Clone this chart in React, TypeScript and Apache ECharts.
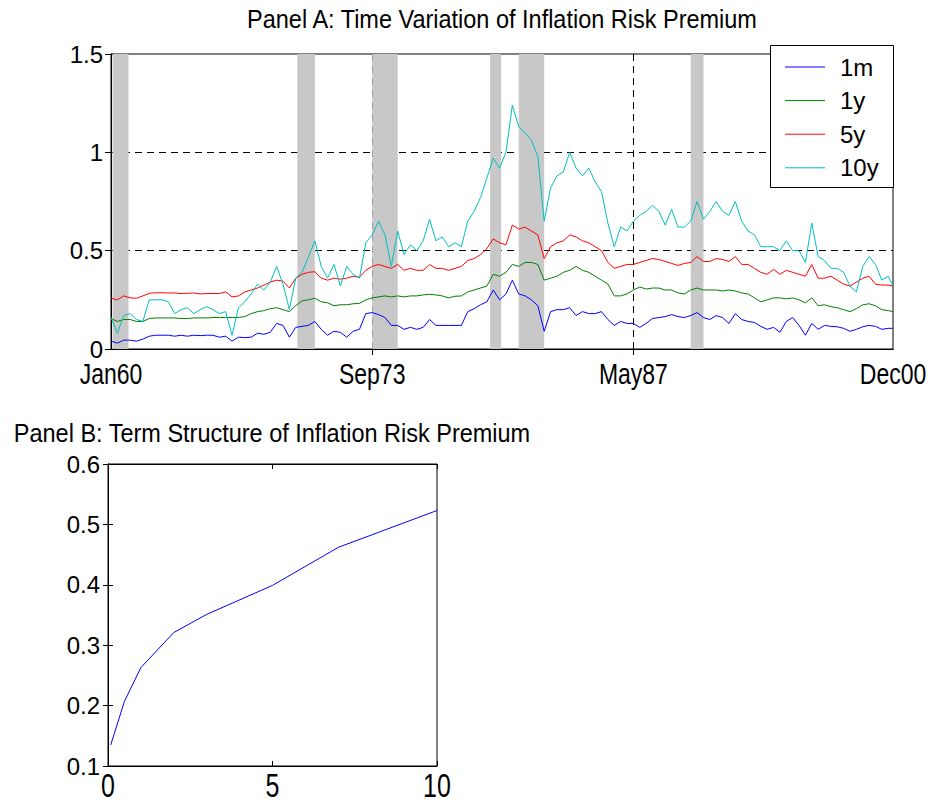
import React, { useEffect, useRef } from "react";
import * as echarts from "echarts";

// ---- Panel A data (month index from Jan 1960) ----
const months = [
  0, 4, 8, 12, 16, 20, 24, 28, 32, 36,
  40, 44, 48, 52, 56, 60, 64, 68, 72, 76,
  80, 84, 88, 92, 96, 100, 104, 108, 112, 116,
  120, 124, 128, 132, 136, 140, 144, 148, 152, 156,
  160, 164, 168, 172, 176, 180, 184, 188, 192, 196,
  200, 204, 208, 212, 216, 220, 224, 228, 232, 236,
  240, 244, 248, 252, 256, 260, 264, 268, 272, 276,
  280, 284, 288, 292, 296, 300, 304, 308, 312, 316,
  320, 324, 328, 332, 336, 340, 344, 348, 352, 356,
  360, 364, 368, 372, 376, 380, 384, 388, 392, 396,
  400, 404, 408, 412, 416, 420, 424, 428, 432, 436,
  440, 444, 448, 452, 456, 460, 464, 468, 472, 476,
  480, 484, 488, 491,
];

const irp1m = [
  0.04, 0.03, 0.045, 0.045, 0.04, 0.05, 0.065, 0.07, 0.07, 0.07,
  0.065, 0.07, 0.065, 0.07, 0.068, 0.07, 0.07, 0.06, 0.065, 0.04,
  0.06, 0.058, 0.06, 0.08, 0.075, 0.085, 0.13, 0.12, 0.06, 0.11,
  0.115, 0.12, 0.14, 0.1, 0.07, 0.09, 0.085, 0.06, 0.09, 0.1,
  0.18, 0.185, 0.175, 0.16, 0.12, 0.12, 0.1, 0.11, 0.1, 0.11,
  0.15, 0.12, 0.12, 0.12, 0.12, 0.12, 0.19, 0.205, 0.225, 0.24,
  0.3, 0.25, 0.28, 0.35, 0.28, 0.27, 0.25, 0.22, 0.09, 0.19,
  0.2, 0.2, 0.21, 0.17, 0.19, 0.18, 0.18, 0.19, 0.15, 0.12,
  0.14, 0.13, 0.13, 0.11, 0.13, 0.155, 0.16, 0.165, 0.175, 0.165,
  0.16, 0.17, 0.185, 0.16, 0.15, 0.17, 0.16, 0.13, 0.18, 0.15,
  0.14, 0.135, 0.115, 0.1, 0.11, 0.085, 0.14, 0.16, 0.12, 0.07,
  0.13, 0.1, 0.12, 0.115, 0.113, 0.105, 0.09, 0.1, 0.113, 0.12,
  0.115, 0.1, 0.105, 0.105,
];

const irp1y = [
  0.155, 0.14, 0.15, 0.15, 0.14, 0.14, 0.155, 0.158, 0.158, 0.158,
  0.158, 0.155, 0.155, 0.158, 0.158, 0.158, 0.16, 0.16, 0.16, 0.16,
  0.16, 0.165, 0.18, 0.19, 0.195, 0.205, 0.21, 0.2, 0.19, 0.22,
  0.245, 0.25, 0.258, 0.24, 0.235, 0.22, 0.225, 0.225, 0.23, 0.232,
  0.25, 0.26, 0.265, 0.27, 0.265, 0.27, 0.265, 0.27, 0.27, 0.275,
  0.278, 0.275, 0.27, 0.26, 0.268, 0.27, 0.29, 0.3, 0.31, 0.32,
  0.38, 0.37, 0.39, 0.43, 0.42, 0.44, 0.44, 0.43, 0.35, 0.36,
  0.37, 0.39, 0.4, 0.42, 0.4, 0.39, 0.37, 0.35, 0.33, 0.27,
  0.27, 0.28, 0.3, 0.315, 0.305, 0.31, 0.31, 0.3, 0.3, 0.285,
  0.28, 0.3, 0.31, 0.3, 0.3, 0.3, 0.295, 0.3, 0.295, 0.285,
  0.28, 0.26, 0.24, 0.25, 0.26, 0.26, 0.255, 0.26, 0.25, 0.235,
  0.26, 0.22, 0.225, 0.215, 0.21, 0.2, 0.19, 0.205, 0.225, 0.23,
  0.22, 0.2, 0.195, 0.19,
];

const irp5y = [
  0.258, 0.25, 0.27, 0.26, 0.258, 0.27, 0.283, 0.286, 0.286, 0.285,
  0.285, 0.282, 0.283, 0.285, 0.28, 0.282, 0.282, 0.282, 0.29, 0.265,
  0.27, 0.29, 0.3, 0.31, 0.325, 0.34, 0.35, 0.345, 0.31, 0.36,
  0.38, 0.39, 0.393, 0.36, 0.35, 0.36, 0.355, 0.36, 0.37, 0.365,
  0.4, 0.42, 0.43, 0.42, 0.41, 0.43, 0.4, 0.41, 0.4, 0.4,
  0.43, 0.41, 0.41, 0.4, 0.41, 0.42, 0.45, 0.46, 0.48, 0.51,
  0.56, 0.54, 0.53, 0.63, 0.61, 0.62, 0.6, 0.58, 0.46, 0.52,
  0.54, 0.55, 0.58, 0.57, 0.55, 0.54, 0.52, 0.5, 0.44, 0.41,
  0.42, 0.43, 0.43, 0.44, 0.45, 0.46, 0.455, 0.445, 0.435, 0.425,
  0.435, 0.44, 0.47, 0.445, 0.445, 0.46, 0.455, 0.445, 0.47, 0.43,
  0.43, 0.41, 0.39, 0.38, 0.405, 0.38, 0.4, 0.39, 0.38, 0.37,
  0.43, 0.36, 0.36, 0.37, 0.35, 0.33, 0.32, 0.34, 0.36, 0.37,
  0.33, 0.325, 0.325, 0.32,
];

const irp10y = [
  0.16, 0.08, 0.17, 0.18, 0.15, 0.14, 0.25, 0.25, 0.25, 0.24,
  0.18, 0.2, 0.21, 0.18, 0.2, 0.215, 0.2, 0.18, 0.19, 0.07,
  0.21, 0.24, 0.28, 0.33, 0.3, 0.34, 0.42, 0.33, 0.2, 0.36,
  0.39, 0.47, 0.55, 0.42, 0.36, 0.43, 0.32, 0.42, 0.38, 0.36,
  0.54, 0.58, 0.65, 0.58, 0.42, 0.6, 0.48, 0.53, 0.5, 0.55,
  0.66, 0.55, 0.57, 0.52, 0.54, 0.52, 0.65, 0.7, 0.77, 0.87,
  0.97, 0.92, 1.0, 1.24, 1.13, 1.1, 1.06, 0.98, 0.65, 0.82,
  0.88, 0.9, 1.0, 0.92, 0.88, 0.92, 0.85, 0.8, 0.64, 0.52,
  0.62, 0.6, 0.65, 0.68, 0.7, 0.73, 0.7, 0.63, 0.71, 0.62,
  0.62, 0.65, 0.75, 0.66, 0.7, 0.75, 0.7, 0.68, 0.75, 0.65,
  0.6, 0.58, 0.52, 0.52, 0.52, 0.5, 0.55, 0.5, 0.5, 0.44,
  0.64, 0.47, 0.45, 0.41, 0.41, 0.39, 0.32, 0.29, 0.42, 0.47,
  0.43, 0.35, 0.37, 0.32,
];

// recession shading (month index start / end)
const recessionStart = [1, 117, 164, 238, 256, 364];
const recessionEnd = [11, 128, 180, 245, 272, 372];

const xTickMonths = [0, 164, 328, 491];
const xTickLabels = ["Jan60", "Sep73", "May87", "Dec00"];
const gridMonths = [164, 328];
const gridLevels = [0.5, 1];

// ---- Panel B data ----
const maturities = [0.0833, 0.5, 1, 2, 3, 5, 7, 10];
const termPremium = [0.135, 0.207, 0.263, 0.321, 0.351, 0.399, 0.462, 0.523];
const maturityTicks = [0, 5, 10];

const seriesNames = ["1m", "1y", "5y", "10y"];
const seriesColors = ["#0000ff", "#008000", "#ff0000", "#00bfbf"];

const FONT = "'Liberation Sans', Arial, sans-serif";

export default function App() {
  const ref = useRef<HTMLDivElement>(null);

  useEffect(() => {
    if (!ref.current) return;
    const chart = echarts.init(ref.current, undefined, { renderer: "svg" });
    const values = [irp1m, irp1y, irp5y, irp10y];

    const yLabelStyle = { color: "#000", fontSize: 24, fontFamily: FONT };
    const axisLine = { show: true, lineStyle: { color: "#000", width: 1 } };
    const hidden = { show: false };

    const lineSeries = values.map((vals, i) => ({
      type: "line",
      name: seriesNames[i],
      xAxisIndex: 0,
      yAxisIndex: 0,
      data: months.map((m, k) => [m, vals[k]]),
      showSymbol: false,
      symbol: "none",
      lineStyle: { color: seriesColors[i], width: 1 },
      itemStyle: { color: seriesColors[i] },
      z: 5,
      silent: true,
    }));

    chart.setOption({
      animation: false,
      backgroundColor: "#fff",
      grid: [
        { left: 111, top: 54, width: 782, height: 295, show: true, borderColor: "#000", borderWidth: 1, backgroundColor: "transparent" },
        { left: 108, top: 464, width: 329, height: 302, show: true, borderColor: "#000", borderWidth: 1, backgroundColor: "transparent" },
      ],
      xAxis: [
        {
          type: "value", gridIndex: 0, position: "bottom", min: 0, max: 491,
          axisLine,
          axisTick: { show: true, inside: true, length: 6, customValues: gridMonths, lineStyle: { color: "#000" } },
          axisLabel: hidden,
          splitLine: hidden,
        },
        {
          type: "value", gridIndex: 0, position: "top", min: 0, max: 491,
          axisLine,
          axisTick: { show: true, inside: true, length: 6, customValues: gridMonths, lineStyle: { color: "#000" } },
          axisLabel: hidden,
          splitLine: hidden,
        },
        {
          type: "value", gridIndex: 1, position: "bottom", min: 0, max: 10, interval: 5,
          axisLine,
          axisTick: { show: true, inside: true, length: 5, lineStyle: { color: "#000" } },
          axisLabel: hidden,
          splitLine: hidden,
        },
        {
          type: "value", gridIndex: 1, position: "top", min: 0, max: 10, interval: 5,
          axisLine,
          axisTick: { show: true, inside: true, length: 5, lineStyle: { color: "#000" } },
          axisLabel: hidden,
          splitLine: hidden,
        },
      ],
      yAxis: [
        {
          type: "value", gridIndex: 0, position: "left", min: 0, max: 1.5, interval: 0.5,
          axisLine,
          axisTick: { show: true, inside: true, length: 6, lineStyle: { color: "#000" } },
          axisLabel: { ...yLabelStyle, margin: 8, formatter: (v: number) => String(Math.round(v * 10) / 10) },
          splitLine: hidden,
        },
        {
          type: "value", gridIndex: 0, position: "right", min: 0, max: 1.5, interval: 0.5,
          axisLine,
          axisTick: { show: true, inside: true, length: 6, lineStyle: { color: "#000" } },
          axisLabel: hidden,
          splitLine: hidden,
        },
        {
          type: "value", gridIndex: 1, position: "left", min: 0.1, max: 0.6, interval: 0.1,
          axisLine,
          axisTick: { show: true, inside: true, length: 5, lineStyle: { color: "#000" } },
          axisLabel: { ...yLabelStyle, margin: 8, formatter: (v: number) => v.toFixed(1) },
          splitLine: hidden,
        },
        {
          type: "value", gridIndex: 1, position: "right", min: 0.1, max: 0.6, interval: 0.1,
          axisLine,
          axisTick: { show: true, inside: true, length: 5, lineStyle: { color: "#000" } },
          axisLabel: hidden,
          splitLine: hidden,
        },
      ],
      series: [
        {
          type: "line",
          name: "grid",
          xAxisIndex: 0,
          yAxisIndex: 0,
          data: [],
          silent: true,
          markLine: {
            silent: true,
            symbol: "none",
            z: 1,
            label: { show: false },
            lineStyle: { color: "#000", width: 1, type: [7, 5] },
            data: [
              ...gridMonths.map((m) => ({ xAxis: m })),
              ...gridLevels.map((l) => ({ yAxis: l })),
            ],
          },
        },
        {
          type: "line",
          name: "recessions",
          xAxisIndex: 0,
          yAxisIndex: 0,
          data: [],
          silent: true,
          markArea: {
            silent: true,
            z: 2,
            itemStyle: { color: "#c8c8c8", opacity: 1 },
            label: { show: false },
            data: recessionStart.map((s, i) => [{ xAxis: s }, { xAxis: recessionEnd[i] }]),
          },
        },
        ...lineSeries,
        {
          type: "line",
          name: "term",
          xAxisIndex: 2,
          yAxisIndex: 2,
          data: maturities.map((m, i) => [m, termPremium[i]]),
          showSymbol: false,
          symbol: "none",
          lineStyle: { color: "#0000ff", width: 1 },
          z: 5,
          silent: true,
        },
      ],
    });

    // x tick labels (vertically stretched, as in the reference), placed by the axes' own scales
    const axisABottom = chart.convertToPixel({ yAxisIndex: 0 }, 0) as number;
    const axisBBottom = chart.convertToPixel({ yAxisIndex: 2 }, 0.1) as number;
    const labelGraphics: any[] = [];
    xTickMonths.forEach((m, i) => {
      labelGraphics.push({
        type: "text",
        x: chart.convertToPixel({ xAxisIndex: 0 }, m) as number,
        y: axisABottom + 25,
        scaleY: 1.26,
        style: {
          text: xTickLabels[i],
          fill: "#000",
          font: `23px ${FONT}`,
          textAlign: "center",
          textVerticalAlign: "middle",
        },
      });
    });
    maturityTicks.forEach((t) => {
      labelGraphics.push({
        type: "text",
        x: chart.convertToPixel({ xAxisIndex: 2 }, t) as number,
        y: axisBBottom + 19.5,
        scaleY: 1.36,
        style: {
          text: String(t),
          fill: "#000",
          font: `25px ${FONT}`,
          textAlign: "center",
          textVerticalAlign: "middle",
        },
      });
    });

    const legendGraphics: any[] = [
      {
        type: "rect",
        shape: { x: 770.5, y: 45.5, width: 123, height: 142 },
        style: { fill: "#fff", stroke: "#000", lineWidth: 1 },
        z: 100,
      },
    ];
    seriesNames.forEach((n, i) => {
      const y = 67 + i * 33.6;
      legendGraphics.push({
        type: "line",
        shape: { x1: 785, y1: y, x2: 825, y2: y },
        style: { stroke: seriesColors[i], lineWidth: 1 },
        z: 101,
      });
      legendGraphics.push({
        type: "text",
        x: 840,
        y: y,
        style: {
          text: n,
          fill: "#000",
          font: `24px ${FONT}`,
          textAlign: "left",
          textVerticalAlign: "middle",
        },
        z: 101,
      });
    });

    chart.setOption({
      graphic: [
        {
          type: "text",
          x: 502,
          y: 19,
          scaleY: 1.08,
          style: {
            text: "Panel A: Time Variation of Inflation Risk Premium",
            fill: "#000",
            font: `23.5px ${FONT}`,
            textAlign: "center",
            textVerticalAlign: "middle",
          },
        },
        {
          type: "text",
          x: 272,
          y: 433,
          scaleY: 1.08,
          style: {
            text: "Panel B: Term Structure of Inflation Risk Premium",
            fill: "#000",
            font: `23.5px ${FONT}`,
            textAlign: "center",
            textVerticalAlign: "middle",
          },
        },
        ...labelGraphics,
        ...legendGraphics,
      ],
    });

    return () => chart.dispose();
  }, []);

  return (
    <div
      ref={ref}
      style={{ position: "fixed", left: 0, top: 0, width: 932, height: 804, background: "#fff" }}
    />
  );
}
